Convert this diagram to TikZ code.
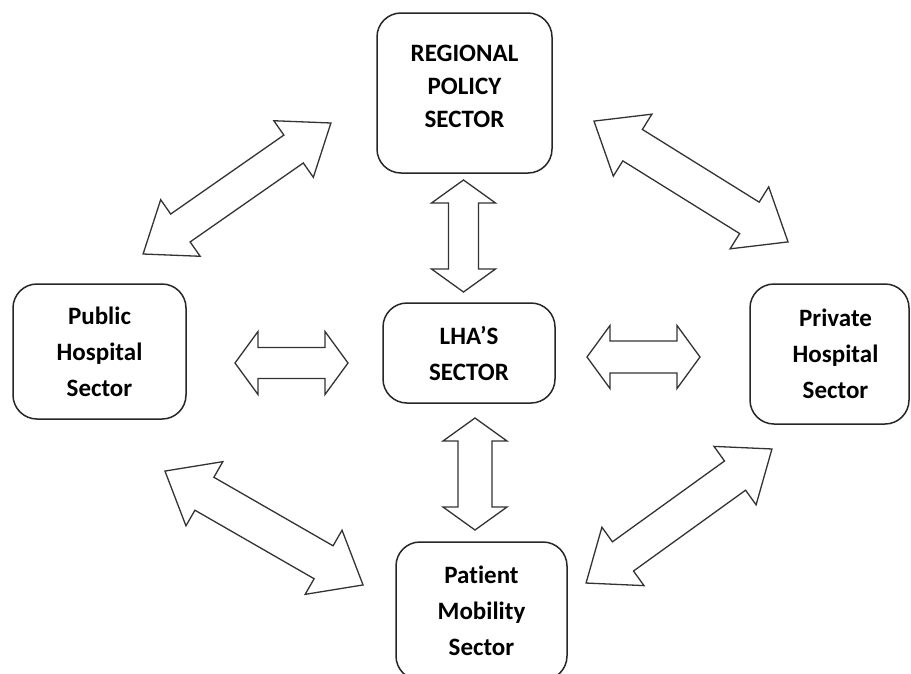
\documentclass[tikz,border=0pt]{standalone}
\usepackage{fontspec}
\setmainfont{Carlito}[Ligatures=NoCommon]
\begin{document}
\begin{tikzpicture}[x=1pt,y=-1pt,
  box/.style={draw=black!85, line width=1.5pt, rounded corners=24pt, fill=white,
    align=center, inner sep=0pt, font=\fontsize{25}{36}\selectfont\bfseries},
  arrowline/.style={draw=black!80, line width=1.3pt, fill=white, line join=miter},
  pics/dblarrow/.style n args={4}{code={
    \draw[arrowline] (-#1/2,0) -- (-#1/2+#4,#2/2) -- (-#1/2+#4,#3/2)
      -- (#1/2-#4,#3/2) -- (#1/2-#4,#2/2) -- (#1/2,0) -- (#1/2-#4,-#2/2)
      -- (#1/2-#4,-#3/2) -- (-#1/2+#4,-#3/2) -- (-#1/2+#4,-#2/2) -- cycle;
  }}]
\useasboundingbox (0,0) rectangle (911,673);
\clip (0,0) rectangle (911,673);
\fill[white] (0,0) rectangle (911,673);

% boxes
\node[box, minimum width=175pt, minimum height=160pt,
  font=\fontsize{25}{33}\selectfont\bfseries] (reg) at (464.5,93)
  {REGIONAL\\POLICY\\SECTOR\rule[-14pt]{0pt}{14pt}};
\node[box, minimum width=173pt, minimum height=135pt] (pub) at (99.5,351.5)
  {Public\\Hospital\\Sector};
\node[box, minimum width=172pt, minimum height=100pt] (lha) at (469,353)
  {LHA’S\\SECTOR};
\node[box, minimum width=159pt, minimum height=140pt] (priv) at (829.5,354)
  {\hspace*{12pt}Private\\\hspace*{12pt}Hospital\\\hspace*{12pt}Sector};
\node[box, minimum width=171pt, minimum height=138pt] (pat) at (481.5,611)
  {Patient\\Mobility\\Sector};

% block arrows
\pic[rotate=90]    (aRegLha)  at (463.5,236)  {dblarrow={112}{64}{30}{23}};
\pic[rotate=90]    (aLhaPat)  at (475,474)    {dblarrow={112}{64}{34}{23}};
\pic               (aPubLha)  at (291.5,363)  {dblarrow={113}{63}{31}{23}};
\pic               (aLhaPriv) at (643.5,357)  {dblarrow={113}{63}{32}{23}};
\pic[rotate=34.9]  (aPubReg)  at (237,188.5)  {dblarrow={229}{69}{34}{45.5}};
\pic[rotate=-31.9] (aRegPriv) at (691,181.5)  {dblarrow={228.6}{73}{37}{45.5}};
\pic[rotate=-29.9] (aPubPat)  at (264,528)    {dblarrow={228.5}{74}{38}{45.5}};
\pic[rotate=35.8]  (aPatPriv) at (679,516)    {dblarrow={229.2}{72}{36}{45.5}};
\end{tikzpicture}
\end{document}
